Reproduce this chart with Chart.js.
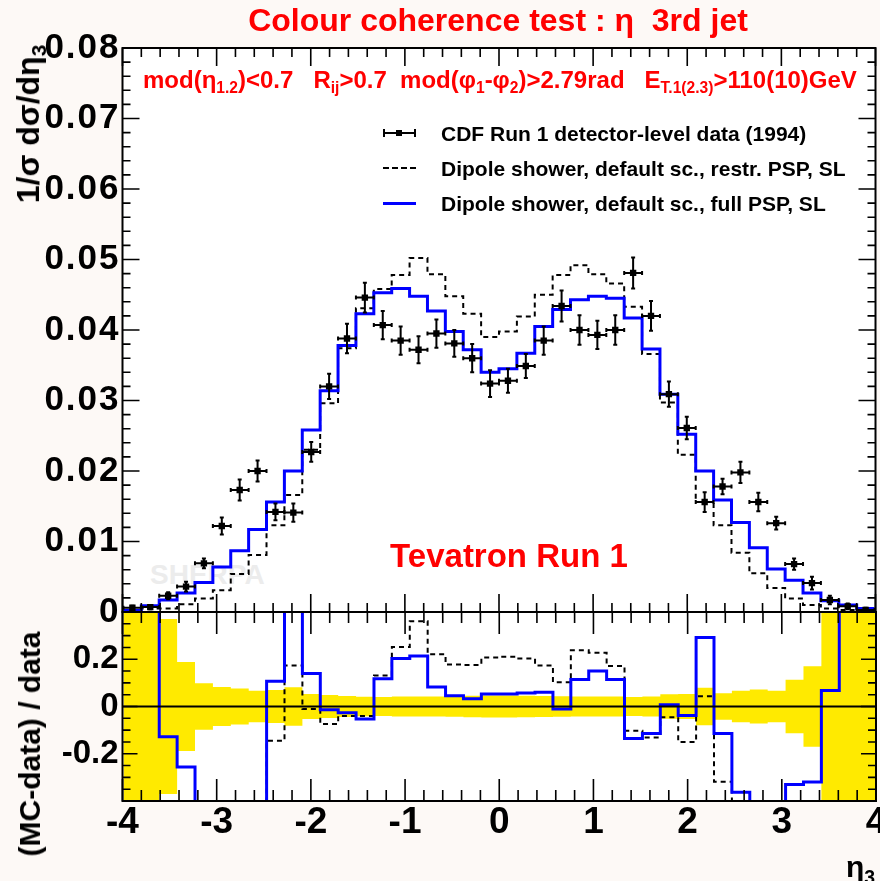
<!DOCTYPE html>
<html><head><meta charset="utf-8">
<script src="https://cdn.jsdelivr.net/npm/chart.js@4.4.1/dist/chart.umd.min.js"></script>
<style>
html,body{margin:0;padding:0;background:#fdf9f6;width:880px;height:881px;overflow:hidden;}
#wrap{position:relative;width:880px;height:881px;}
canvas{position:absolute;left:0;top:0;}
.t{position:absolute;font-family:"Liberation Sans",Arial,sans-serif;font-weight:bold;white-space:pre;line-height:1;}
.red{color:#ff0000;}
.sub{font-size:65%;position:relative;top:0.35em;}
.c{transform:translate(-50%,-50%);}
.rot{transform:translate(-50%,-50%) rotate(-90deg);transform-origin:50% 50%;}
.sym{position:absolute;}
</style></head>
<body><div id="wrap">
<div style="position:absolute;left:122px;top:48px;width:754px;height:753px;background:#fff"></div>
<div class="t" style="left:150px;top:561px;font-size:28px;color:#ececec">SHERPA</div>
<canvas id="c1" width="880" height="881"></canvas>
<canvas id="c2" width="880" height="881"></canvas>

<div class="t red c" style="left:498px;top:20px;font-size:32px">Colour coherence test : η  3rd jet</div>
<div class="t red" style="left:143px;top:68px;font-size:24px">mod(η<span class="sub">1.2</span>)&lt;0.7   R<span class="sub">ij</span>&gt;0.7  mod(φ<span class="sub">1</span>-φ<span class="sub">2</span>)&gt;2.79rad   E<span class="sub">T.1(2.3)</span>&gt;110(10)GeV</div>

<div class="sym" style="left:383px;top:132px;width:33px;height:2px;background:#000"></div>
<div class="sym" style="left:383px;top:129px;width:2px;height:8px;background:#000"></div>
<div class="sym" style="left:414px;top:129px;width:2px;height:8px;background:#000"></div>
<div class="sym" style="left:396px;top:130px;width:6px;height:6px;background:#000"></div>
<div class="sym" style="left:383px;top:167px;width:33px;height:0;border-top:2px dashed #000"></div>
<div class="sym" style="left:383px;top:202px;width:33px;height:3px;background:#0000ff"></div>
<div class="t" style="left:441px;top:123px;font-size:21px;color:#000">CDF Run 1 detector-level data (1994)</div>
<div class="t" style="left:441px;top:158px;font-size:21px;color:#000">Dipole shower, default sc., restr. PSP, SL</div>
<div class="t" style="left:441px;top:193px;font-size:21px;color:#000">Dipole shower, default sc., full PSP, SL</div>

<div class="t red c" style="left:509px;top:555px;font-size:33px">Tevatron Run 1</div>
<div class="t rot" style="left:28px;top:124px;font-size:32px;color:#000">1/σ dσ/dη<span class="sub">3</span></div>
<div class="t rot" style="left:30px;top:744px;font-size:30px;color:#000">(MC-data) / data</div>
<div class="t" style="left:846px;top:852px;font-size:30px;color:#000">η<span class="sub">3</span></div>
</div>
<script>
// ---- data (eta_3 bins of width 0.19) ----
const etaCentres = [-3.895,-3.705,-3.515,-3.325,-3.135,-2.945,-2.755,-2.565,-2.375,-2.185,-1.995,-1.805,-1.615,-1.425,-1.235,-1.045,-0.855,-0.665,-0.475,-0.285,-0.095,0.095,0.285,0.475,0.665,0.855,1.045,1.235,1.425,1.615,1.805,1.995,2.185,2.375,2.565,2.755,2.945,3.135,3.325,3.515,3.705,3.895];
const binHalfWidth = 0.095;
const cdfData = [0.0006,0.0007,0.0023,0.0036,0.0069,0.0122,0.0173,0.0200,0.0142,0.0141,0.0227,0.0320,0.0388,0.0446,0.0407,0.0385,0.0372,0.0395,0.0381,0.0360,0.0324,0.0328,0.0349,0.0385,0.0434,0.0400,0.0393,0.0400,0.0481,0.0420,0.0309,0.0261,0.0156,0.0178,0.0198,0.0156,0.0126,0.0068,0.0041,0.0017,0.0008,0.0003];
const cdfErr = [0.0003,0.0003,0.0005,0.0007,0.0007,0.0012,0.0015,0.0015,0.0012,0.0013,0.0014,0.0018,0.0021,0.0021,0.0020,0.0020,0.0019,0.0020,0.0019,0.0020,0.0019,0.0017,0.0017,0.0020,0.0022,0.0021,0.0020,0.0021,0.0022,0.0021,0.0018,0.0016,0.0014,0.0011,0.0015,0.0013,0.0009,0.0008,0.0009,0.0006,0.0004,0.0003];
const fullPSP = [0.0002,0.0009,0.0017,0.0027,0.0042,0.0064,0.0087,0.0117,0.0156,0.0200,0.0258,0.0314,0.0378,0.0423,0.0453,0.0459,0.0448,0.0427,0.0398,0.0372,0.0340,0.0345,0.0367,0.0405,0.0429,0.0443,0.0448,0.0445,0.0417,0.0373,0.0309,0.0252,0.0200,0.0159,0.0127,0.0091,0.0061,0.0045,0.0027,0.0016,0.0010,0.0005];
const restrPSP = [0.0001,0.0005,0.0005,0.0011,0.0019,0.0031,0.0054,0.0081,0.0123,0.0166,0.0230,0.0296,0.0374,0.0431,0.0458,0.0478,0.0502,0.0479,0.0448,0.0423,0.0390,0.0398,0.0419,0.0450,0.0478,0.0492,0.0479,0.0466,0.0433,0.0366,0.0297,0.0223,0.0156,0.0123,0.0084,0.0055,0.0034,0.0019,0.0010,0.0005,0.0003,0.0002];
const ratioFull = [0.6,0.6,-0.128,-0.256,-0.6,-0.6,-0.6,-0.6,0.107,0.6,0.14,-0.014,-0.026,-0.053,0.117,0.203,0.214,0.083,0.046,0.033,0.053,0.053,0.057,0.06,-0.011,0.114,0.15,0.114,-0.135,-0.114,0.007,-0.038,0.292,-0.114,-0.363,-0.6,-0.6,-0.33,-0.32,0.068,0.6,0.6];
const ratioRestr = [-0.6,-0.6,-0.6,-0.6,-0.6,-0.6,-0.6,-0.6,-0.145,0.174,-0.011,-0.074,-0.04,-0.04,0.131,0.252,0.361,0.221,0.178,0.176,0.207,0.211,0.203,0.174,0.103,0.238,0.228,0.171,-0.103,-0.131,-0.045,-0.15,0.043,-0.318,-0.6,-0.6,-0.6,-0.6,-0.6,-0.6,-0.6,-0.6];
const dataRelErr = [0.6,0.6,0.37,0.188,0.098,0.083,0.076,0.067,0.07,0.081,0.053,0.049,0.044,0.041,0.04,0.042,0.042,0.042,0.043,0.045,0.047,0.047,0.045,0.044,0.043,0.042,0.042,0.042,0.04,0.042,0.052,0.053,0.079,0.056,0.067,0.072,0.067,0.113,0.17,0.6,0.6,0.6];

const FONT = '"Liberation Sans", Arial, sans-serif';

// points at bin low edges (+ final upper edge); 'before' stepping = horizontal first
function stepPoints(vals){
  const pts = vals.map((v,i)=>({x: etaCentres[i]-binHalfWidth, y: v}));
  const n = vals.length-1;
  pts.push({x: etaCentres[n]+binHalfWidth, y: vals[n]});
  return pts;
}

const rootFrame = {
  id: 'rootFrame',
  beforeDraw(chart, args, o) {
    if (o.letterSpacing) chart.ctx.letterSpacing = o.letterSpacing;
  },
  afterDatasetsDraw(chart, args, o) {
    const {ctx, chartArea: a, scales} = chart;
    const xs = scales.x, ys = scales.y;
    ctx.save();
    ctx.strokeStyle = '#000';
    chart.data.datasets.forEach((ds) => {
      if (!ds.yErr) return;
      ctx.lineWidth = 2;
      ds.data.forEach((p, i) => {
        const e = ds.yErr[i];
        const cx = xs.getPixelForValue(p.x), cy = ys.getPixelForValue(p.y);
        const yl = ys.getPixelForValue(p.y - e), yh = ys.getPixelForValue(p.y + e);
        const xl = xs.getPixelForValue(p.x - binHalfWidth), xh = xs.getPixelForValue(p.x + binHalfWidth);
        ctx.beginPath();
        ctx.moveTo(cx, yl); ctx.lineTo(cx, yh);
        ctx.moveTo(xl, cy); ctx.lineTo(xh, cy);
        ctx.moveTo(cx-2, yl); ctx.lineTo(cx+2, yl);
        ctx.moveTo(cx-2, yh); ctx.lineTo(cx+2, yh);
        ctx.moveTo(xl, cy-2); ctx.lineTo(xl, cy+2);
        ctx.moveTo(xh, cy-2); ctx.lineTo(xh, cy+2);
        ctx.stroke();
      });
    });
    ctx.lineWidth = 2;
    if (o.zeroLine) {
      const y0 = ys.getPixelForValue(0);
      ctx.beginPath(); ctx.moveTo(a.left, y0); ctx.lineTo(a.right, y0); ctx.stroke();
    }
    ctx.lineWidth = 1.6;
    const nx = Math.round((xs.max - xs.min) / o.xStep);
    ctx.beginPath();
    for (let k = 0; k <= nx; k++) {
      const px = xs.getPixelForValue(xs.min + k * o.xStep);
      const L = (k % o.xDiv === 0) ? o.xMajLen : o.xMinLen;
      ctx.moveTo(px, a.bottom); ctx.lineTo(px, a.bottom - L);
      ctx.moveTo(px, a.top); ctx.lineTo(px, a.top + L);
    }
    const ny = Math.round((ys.max - ys.min) / o.yStep);
    for (let k = 0; k <= ny; k++) {
      const py = ys.getPixelForValue(ys.min + k * o.yStep);
      const L = (k % o.yDiv === 0) ? o.yMajLen : o.yMinLen;
      ctx.moveTo(a.left, py); ctx.lineTo(a.left + L, py);
      ctx.moveTo(a.right, py); ctx.lineTo(a.right - L, py);
    }
    ctx.stroke();
    ctx.lineWidth = 2;
    ctx.strokeRect(a.left, a.top, a.right - a.left, a.bottom - a.top);
    ctx.restore();
  }
};

function fixW(w){ return function(s){ s.width = w; s.paddingTop = 0; s.paddingBottom = 0; s.paddingLeft = 0; s.paddingRight = 0; }; }
function fixH(h){ return function(s){ s.height = h; s.paddingLeft = 0; s.paddingRight = 0; s.paddingTop = 0; s.paddingBottom = 0; }; }

new Chart(document.getElementById('c1'), {
  type: 'line',
  data: { datasets: [
    {label: 'CDF Run 1 detector-level data (1994)', data: cdfData.map((v,i)=>({x: etaCentres[i], y: v})), yErr: cdfErr,
     showLine: false, pointStyle: 'rect', pointRadius: 4.5, pointBorderWidth: 0, pointBackgroundColor: '#000', borderColor: '#000'},
    {label: 'Dipole shower, default sc., full PSP, SL', data: stepPoints(fullPSP), stepped: 'before', borderColor: '#0000ff', borderWidth: 3, pointRadius: 0, fill: false, clip: 0},
    {label: 'Dipole shower, default sc., restr. PSP, SL', data: stepPoints(restrPSP), stepped: 'before', borderColor: '#000', borderWidth: 2, borderDash: [5,4], pointRadius: 0, fill: false, clip: 0}
  ]},
  options: {
    responsive: false, animation: false, devicePixelRatio: 1,
    layout: {padding: {left: 0, top: 48, right: 4, bottom: 269}},
    plugins: {legend: {display: false}, tooltip: {enabled: false},
      rootFrame: {letterSpacing: '2px', xStep: 0.2, xDiv: 5, xMajLen: 18, xMinLen: 9, yStep: 0.002, yDiv: 5, yMajLen: 17, yMinLen: 8}},
    scales: {
      x: {type: 'linear', min: -4, max: 4, display: false},
      y: {type: 'linear', min: 0, max: 0.08, afterFit: fixW(122.5),
          grid: {display: false, drawTicks: false}, border: {display: false},
          ticks: {stepSize: 0.01, padding: 2, autoSkip: false, color: '#000', font: {family: FONT, weight: 'bold', size: 35},
                  callback: v => Math.abs(v) < 1e-9 ? '0' : v.toFixed(2)}}
    }
  },
  plugins: [rootFrame]
});

new Chart(document.getElementById('c2'), {
  type: 'line',
  data: { datasets: [
    {label: 'full PSP ratio', data: stepPoints(ratioFull), stepped: 'before', borderColor: '#0000ff', borderWidth: 3, pointRadius: 0, fill: false, clip: 0},
    {label: 'restr. PSP ratio', data: stepPoints(ratioRestr), stepped: 'before', borderColor: '#000', borderWidth: 2, borderDash: [5,4], pointRadius: 0, fill: false, clip: 0},
    {label: 'data error +', data: stepPoints(dataRelErr), stepped: 'before', borderWidth: 0, borderColor: 'rgba(0,0,0,0)', pointRadius: 0, fill: '+1', backgroundColor: '#ffea00', clip: 0},
    {label: 'data error -', data: stepPoints(dataRelErr.map(v => -v)), stepped: 'before', borderWidth: 0, borderColor: 'rgba(0,0,0,0)', pointRadius: 0, fill: false, clip: 0}
  ]},
  options: {
    responsive: false, animation: false, devicePixelRatio: 1,
    layout: {padding: {left: 0, top: 612, right: 4, bottom: 0}},
    plugins: {legend: {display: false}, tooltip: {enabled: false},
      rootFrame: {zeroLine: true, xStep: 0.2, xDiv: 5, xMajLen: 22, xMinLen: 11, yStep: 0.05, yDiv: 4, yMajLen: 15, yMinLen: 8}},
    scales: {
      x: {type: 'linear', min: -4, max: 4, afterFit: fixH(80),
          grid: {display: false, drawTicks: false}, border: {display: false},
          ticks: {stepSize: 1, padding: 0, autoSkip: false, maxRotation: 0, color: '#000', font: {family: FONT, weight: 'bold', size: 37},
                  callback: v => String(v)}},
      y: {type: 'linear', min: -0.4, max: 0.4, afterFit: fixW(122.5),
          grid: {display: false, drawTicks: false}, border: {display: false},
          ticks: {stepSize: 0.2, padding: 4, autoSkip: false, color: '#000', font: {family: FONT, weight: 'bold', size: 33},
                  callback: v => Math.abs(v) > 0.3 ? '' : (Math.abs(v) < 1e-9 ? '0' : v.toFixed(1))}}
    }
  },
  plugins: [rootFrame]
});
</script>
</body></html>
